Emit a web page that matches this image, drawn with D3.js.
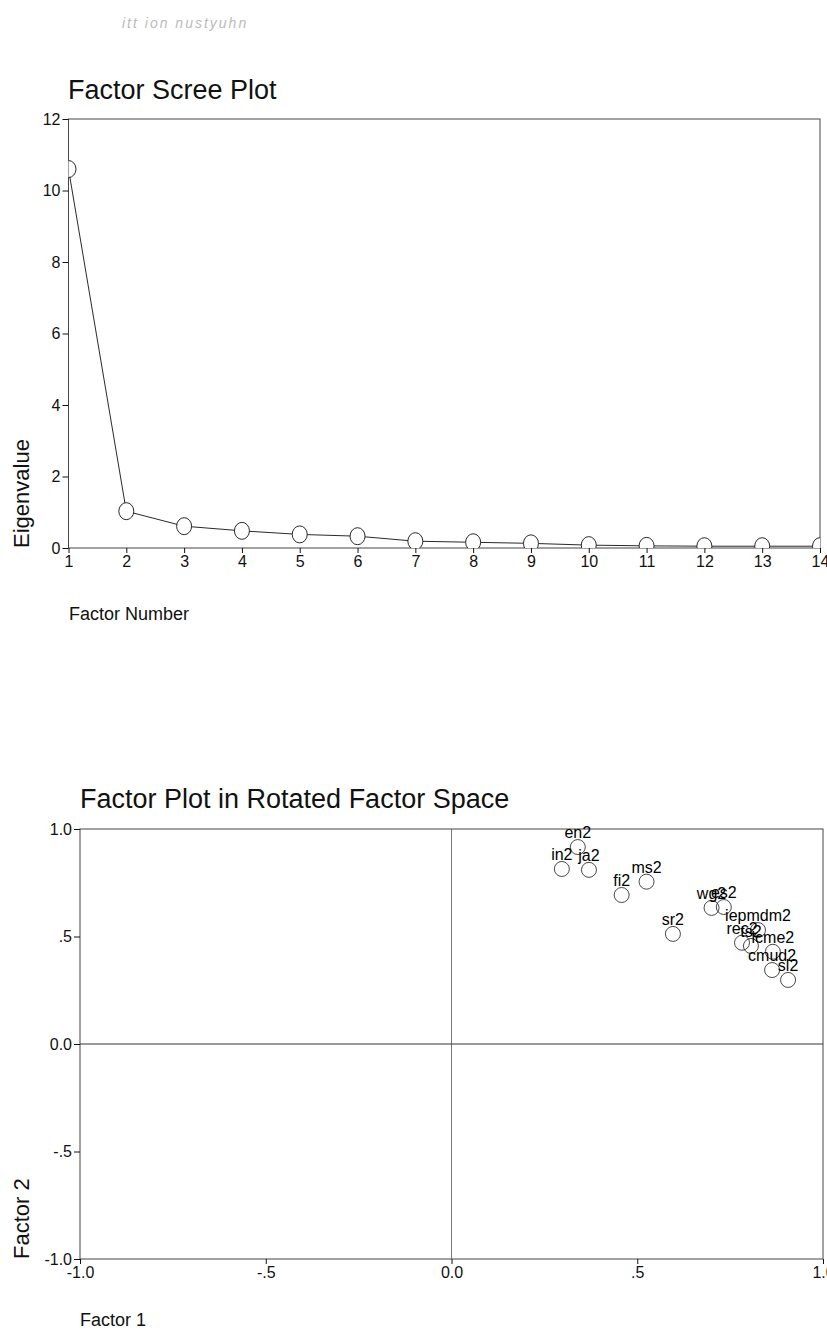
<!DOCTYPE html>
<html>
<head>
<meta charset="utf-8">
<script src="https://cdn.jsdelivr.net/npm/d3@7"></script>
<style>
	body { margin: 0; background: #fff; }
	svg { display: block; font-family: "Liberation Sans", Arial, sans-serif; }
</style>
</head>
<body>
<svg id="page" width="827" height="1334"></svg>
<script>
'use strict';

// scree plot data
var factor_numbers = [1, 2, 3, 4, 5, 6, 7, 8, 9, 10, 11, 12, 13, 14];
var eigenvalues = [10.6, 1.03, 0.61, 0.48, 0.38, 0.33, 0.19, 0.16, 0.13, 0.08, 0.06, 0.05, 0.05, 0.05];
var scree_y_ticks = [0, 2, 4, 6, 8, 10, 12];

// rotated factor loadings
var variable_names = ["en2", "in2", "ja2", "fi2", "ms2", "sr2", "wg2", "es2", "iepmdm2", "rec2", "ts2", "lcme2", "cmud2", "sl2"];
var factor1 = [0.34, 0.297, 0.37, 0.458, 0.525, 0.596, 0.70, 0.733, 0.825, 0.782, 0.806, 0.865, 0.863, 0.906];
var factor2 = [0.916, 0.814, 0.81, 0.693, 0.755, 0.512, 0.633, 0.637, 0.53, 0.471, 0.456, 0.429, 0.344, 0.298];
var loading_ticks = [-1, -0.5, 0, 0.5, 1];
var loading_labels = ["-1.0", "-.5", "0.0", ".5", "1.0"];

var ink = "#111";
var svg = d3.select("#page");

// faint scan marks at the top of the page
svg.append("text")
	.attr("x", 122).attr("y", 28)
	.attr("fill", "#bbb")
	.attr("font-size", 14)
	.attr("font-style", "italic")
	.attr("letter-spacing", 2)
	.text("itt ion    nustyuhn");

function frame(g, x0, x1, y0, y1){
	g.append("rect")
		.attr("x", x0).attr("y", y0)
		.attr("width", x1 - x0).attr("height", y1 - y0)
		.attr("fill", "none")
		.attr("stroke", "#444")
		.attr("stroke-width", 1);
}

function style_axis(g){
	g.select(".domain").remove();
	g.selectAll(".tick line").attr("stroke", ink);
	g.selectAll(".tick text")
		.attr("fill", ink)
		.attr("font-size", 16)
		.attr("font-family", "Liberation Sans, Arial, sans-serif");
}

// ---------- Factor Scree Plot ----------
var sx = d3.scaleLinear().domain([1, 14]).range([68.5, 820]);
var sy = d3.scaleLinear().domain([0, 12]).range([548, 119]);

svg.append("text")
	.attr("x", 68).attr("y", 99)
	.attr("font-size", 27)
	.attr("fill", ink)
	.text("Factor Scree Plot");

var scree = svg.append("g");
frame(scree, sx(1), sx(14), sy(12), sy(0));

scree.append("g")
	.attr("transform", "translate(" + sx(1) + ",0)")
	.call(d3.axisLeft(sy).tickValues(scree_y_ticks).tickSize(6).tickPadding(2).tickFormat(d3.format("d")))
	.call(style_axis);

scree.append("g")
	.attr("transform", "translate(0," + sy(0) + ")")
	.call(d3.axisBottom(sx).tickValues(factor_numbers).tickSize(5).tickPadding(3).tickFormat(d3.format("d")))
	.call(style_axis);

scree.append("clipPath").attr("id", "scree_clip")
	.append("rect")
	.attr("x", sx(1)).attr("y", sy(12))
	.attr("width", sx(14) - sx(1)).attr("height", sy(0) - sy(12));

var scree_data = factor_numbers.map(function(d, i){ return {n: d, v: eigenvalues[i]}; });
var plot = scree.append("g").attr("clip-path", "url(#scree_clip)");

plot.append("path")
	.datum(scree_data)
	.attr("fill", "none")
	.attr("stroke", ink)
	.attr("stroke-width", 0.9)
	.attr("d", d3.line().x(function(d){ return sx(d.n); }).y(function(d){ return sy(d.v); }));

plot.selectAll(".scree_point")
	.data(scree_data)
	.enter().append("ellipse")
	.attr("class", "scree_point")
	.attr("cx", function(d){ return sx(d.n); })
	.attr("cy", function(d){ return sy(d.v); })
	.attr("rx", 7.5).attr("ry", 8.5)
	.attr("fill", "#fff")
	.attr("stroke", ink)
	.attr("stroke-width", 0.9);

svg.append("text")
	.attr("transform", "translate(29," + sy(0) + ") rotate(-90)")
	.attr("font-size", 22)
	.attr("fill", ink)
	.text("Eigenvalue");

svg.append("text")
	.attr("x", 69).attr("y", 620)
	.attr("font-size", 18)
	.attr("fill", ink)
	.text("Factor Number");

// ---------- Factor Plot in Rotated Factor Space ----------
var fx = d3.scaleLinear().domain([-1, 1]).range([80, 823]);
var fy = d3.scaleLinear().domain([-1, 1]).range([1259, 829]);

svg.append("text")
	.attr("x", 80).attr("y", 808)
	.attr("font-size", 27)
	.attr("fill", ink)
	.text("Factor Plot in Rotated Factor Space");

var fp = svg.append("g");
frame(fp, fx(-1), fx(1), fy(1), fy(-1));

fp.append("g")
	.attr("transform", "translate(" + fx(-1) + ",0)")
	.call(d3.axisLeft(fy).tickValues(loading_ticks).tickSize(6).tickPadding(2)
		.tickFormat(function(d, i){ return loading_labels[i]; }))
	.call(style_axis);

fp.append("g")
	.attr("transform", "translate(0," + fy(-1) + ")")
	.call(d3.axisBottom(fx).tickValues(loading_ticks).tickSize(5).tickPadding(3)
		.tickFormat(function(d, i){ return loading_labels[i]; }))
	.call(style_axis);

// zero reference lines
fp.append("line")
	.attr("x1", fx(0)).attr("x2", fx(0))
	.attr("y1", fy(1)).attr("y2", fy(-1))
	.attr("stroke", "#555").attr("stroke-width", 0.8);
fp.append("line")
	.attr("x1", fx(-1)).attr("x2", fx(1))
	.attr("y1", fy(0)).attr("y2", fy(0))
	.attr("stroke", "#333").attr("stroke-width", 1);

var loadings = variable_names.map(function(d, i){ return {name: d, f1: factor1[i], f2: factor2[i]}; });

fp.selectAll(".loading_point")
	.data(loadings)
	.enter().append("circle")
	.attr("class", "loading_point")
	.attr("cx", function(d){ return fx(d.f1); })
	.attr("cy", function(d){ return fy(d.f2); })
	.attr("r", 7.5)
	.attr("fill", "none")
	.attr("stroke", "#333")
	.attr("stroke-width", 0.9);

fp.selectAll(".loading_label")
	.data(loadings)
	.enter().append("text")
	.attr("class", "loading_label")
	.attr("x", function(d){ return fx(d.f1); })
	.attr("y", function(d){ return fy(d.f2) - 9; })
	.attr("text-anchor", "middle")
	.attr("font-size", 16)
	.attr("fill", "#000")
	.text(function(d){ return d.name; });

svg.append("text")
	.attr("transform", "translate(29," + fy(-1) + ") rotate(-90)")
	.attr("font-size", 22)
	.attr("fill", ink)
	.text("Factor 2");

svg.append("text")
	.attr("x", 80).attr("y", 1326)
	.attr("font-size", 18)
	.attr("fill", ink)
	.text("Factor 1");
</script>
</body>
</html>
